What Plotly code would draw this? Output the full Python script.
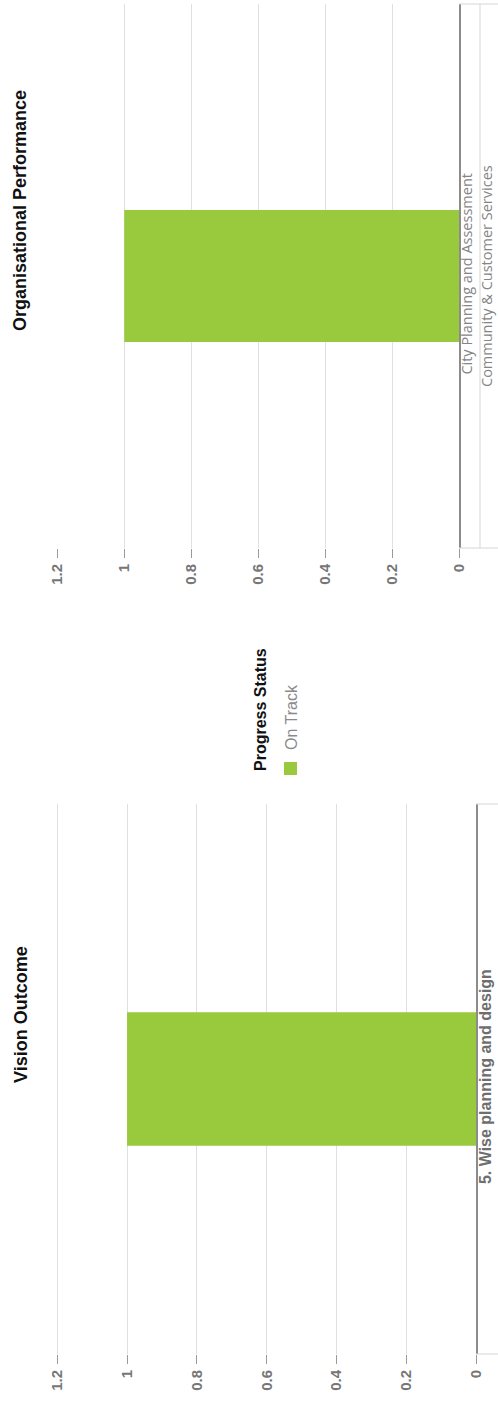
import plotly.graph_objects as go

# ---- data -----------------------------------------------------------------
status_name = "On Track"
status_colour = "#99C93C"

vision_outcomes = ["5. Wise planning and design"]
vision_counts = [1]

org_directorates = ["Community & Customer Services"]
org_units = ["City Planning and Assessment"]
org_counts = [1]

value_ticks = [0, 0.2, 0.4, 0.6, 0.8, 1, 1.2]

# ---- page geometry (the page is laid out turned a quarter turn) -----------
W, H = 498, 1405


def px(x):
    return x / W


def py(y):
    return 1 - y / H


GRID = "#e0e0e0"
AXIS = "#8c8c8c"
DIVIDER = "#d6d6d6"
BOLD = "Liberation Sans, Arial"
TICKFONT = dict(family=BOLD, size=15, color="#767676", weight="bold")

fig = go.Figure()

# Organisational Performance (upper block)
fig.add_trace(go.Bar(
    x=org_counts, y=org_units, orientation="h",
    width=0.243, marker=dict(color=status_colour, line=dict(width=0)),
    name=status_name, xaxis="x", yaxis="y", showlegend=False,
))

# Vision Outcome (lower block)
fig.add_trace(go.Bar(
    x=vision_counts, y=vision_outcomes, orientation="h",
    width=0.243, marker=dict(color=status_colour, line=dict(width=0)),
    name=status_name, xaxis="x2", yaxis="y2", showlegend=False,
))

value_axis = dict(
    tickmode="array", tickvals=value_ticks, ticks="outside", ticklen=9,
    tickcolor="#9a9a9a", tickwidth=1, tickangle=-90, tickfont=TICKFONT,
    showgrid=True, gridcolor=GRID, gridwidth=1, zeroline=False,
    showline=False, fixedrange=True, automargin=False,
)

category_axis = dict(
    type="category", side="right", range=[-0.5, 0.5], tickangle=-90, ticks="",
    showline=True, linecolor=AXIS, linewidth=1.5, showgrid=False,
    fixedrange=True, automargin=False,
)


def line(xref, yref, x0, x1, y0, y1):
    return dict(type="line", xref=xref, yref=yref, x0=x0, x1=x1, y0=y0, y1=y1,
                line=dict(color=DIVIDER, width=1))


def rotated(text, x, y, size, colour, weight="normal", family=BOLD, yref="paper"):
    return dict(text=text, xref="paper", yref=yref, x=x, y=y, textangle=-90,
                xanchor="center", yanchor="middle", showarrow=False,
                font=dict(family=family, size=size, color=colour, weight=weight))


fig.update_layout(
    width=W, height=H, margin=dict(l=0, r=0, t=0, b=0, autoexpand=False),
    paper_bgcolor="white", plot_bgcolor="white", showlegend=False,
    xaxis=dict(value_axis, range=[1.203, 0], domain=[px(56.3), px(459)], anchor="y"),
    xaxis2=dict(value_axis, range=[1.203, 0], domain=[px(56.25), px(476)], anchor="y2"),
    yaxis=dict(category_axis, anchor="x", domain=[py(548), py(4)],
               ticklabelstandoff=-6,
               tickfont=dict(family="Open Sans, Arial", size=14.5, color="#858585")),
    yaxis2=dict(category_axis, anchor="x2", domain=[py(1354), py(804)],
                ticklabelstandoff=-6,
                tickfont=dict(family=BOLD, size=16, color="#6e6e6e", weight="bold")),
    shapes=[
        # frame of the two-level category strip of the upper block
        line("paper", "y domain", px(459), 1, 0, 0),
        line("paper", "y domain", px(459), 1, 1, 1),
        line("paper", "y domain", px(480), px(480), 0, 1),
        # frame of the category strip of the lower block
        line("paper", "y2 domain", px(476), 1, 0, 0),
        line("paper", "y2 domain", px(476), 1, 1, 1),
        # legend swatch
        dict(type="rect", xref="paper", yref="paper", x0=px(284), x1=px(297),
             y0=py(775), y1=py(762), fillcolor=status_colour, line=dict(width=0)),
    ],
    annotations=[
        # outer category level of the upper block
        rotated(org_directorates[0], px(487), org_units[0], 14.5, "#858585",
                family="Open Sans, Arial", yref="y"),
        rotated("Organisational Performance", px(20), py(211), 18, "#111111", "bold"),
        rotated("Vision Outcome", px(21), py(1015), 18, "#111111", "bold"),
        rotated("Progress Status", px(260), py(710), 16, "#111111", "bold"),
        rotated(status_name, px(291), py(717), 16, "#8a8a8a"),
    ],
)

fig.write_html("out.html")
